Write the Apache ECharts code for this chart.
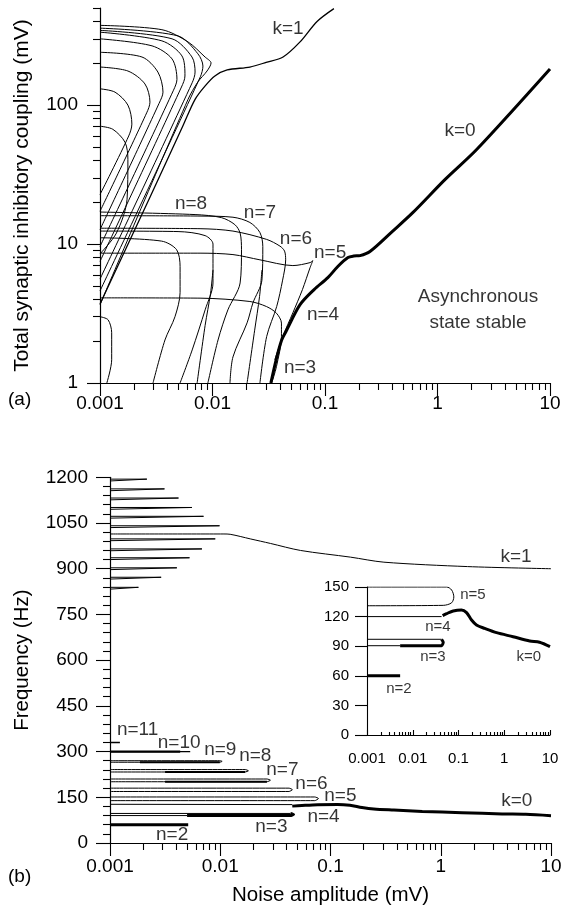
<!DOCTYPE html>
<html><head><meta charset="utf-8">
<script src="https://cdn.jsdelivr.net/npm/echarts@6/dist/echarts.min.js"></script>
<style>html,body{margin:0;padding:0;background:#fff}#c{width:570px;height:909px}</style>
</head><body><div id="c"></div>
<script>
// ---------------- tick values / labels ----------------
const xTickValues = [0.001, 0.01, 0.1, 1, 10];
const xTickLabels = ['0.001', '0.01', '0.1', '1', '10'];
const yTopTickValues = [1, 10, 100];
const yTopTickLabels = ['1', '10', '100'];
const minorMultipliers = [2, 3, 4, 5, 6, 7, 8, 9];
const xDecades = [0.001, 0.01, 0.1, 1];
const yTopDecades = [1, 10, 100];
const yTopMax = 500;

// ---------------- panel (a): stability boundaries (noise mV, coupling mV) ----------------
const k0Top = [[0.033,1],[0.037,1.5],[0.0412,2.04],[0.045,2.35],[0.06,3.66],[0.08,4.7],[0.106,5.73],[0.13,6.9],[0.16,8.0],[0.18,8.2],[0.205,8.26],[0.251,8.83],[0.4,12.4],[0.606,16.9],[1.17,29.2],[2.24,48.1],[10,182]];
const k1Top = [[0.001,3.7],[0.0028,22],[0.0055,72],[0.007,110],[0.00857,137],[0.0105,162],[0.0135,179],[0.0215,188],[0.03,203],[0.0424,222],[0.06,285],[0.085,400],[0.12,495]];
const up1 = [[0.001,375],[0.00355,349],[0.00606,285],[0.00858,222],[0.00971,201],[0.00894,176],[0.00742,147],[0.00606,110],[0.001,3.65]];
const up2 = [[0.001,358],[0.00493,315],[0.00742,234],[0.00822,191],[0.00780,160],[0.001,4.6]];
const up3 = [[0.001,345],[0.00437,300],[0.00657,222],[0.0070,173],[0.00660,145],[0.001,5.6]];
const up4 = [[0.001,335],[0.00355,290],[0.00535,226],[0.00569,162],[0.00530,135],[0.001,7.5]];
const up5 = [[0.001,300],[0.0029,267],[0.00437,215],[0.00483,153],[0.00450,128],[0.001,9.6]];
const up6 = [[0.001,240],[0.00236,222],[0.00327,173],[0.00363,124],[0.00335,103],[0.001,12.7]];
const up7 = [[0.001,188],[0.00177,176],[0.00251,142],[0.00278,105],[0.00260,88],[0.001,17.2]];
const up8 = [[0.001,131],[0.00136,124],[0.00177,100],[0.00192,73],[0.00180,60],[0.001,22.7]];
const up9 = [[0.001,70.5],[0.0013,67],[0.00167,54],[0.00177,40.7],[0.00174,21],[0.0014,12],[0.001,8.5]];
const n10Top = [[0.001,11.1],[0.00353,10.5],[0.0048,9.1],[0.00515,6.9],[0.00515,4.47],[0.00464,3.0],[0.00378,2.04],[0.00296,1]];
const n9Top = [[0.001,12.4],[0.00494,12.3],[0.0086,11.5],[0.0101,10.0],[0.0101,5.25],[0.0086,3.36],[0.0066,1.73],[0.00515,1]];
const n8Top = [[0.001,17.0],[0.007,16.3],[0.012,15.5],[0.0158,13.8],[0.0176,12.0],[0.0181,9.1],[0.0176,5.25],[0.0137,3.36],[0.0112,2.04],[0.0091,1]];
const n7Top = [[0.001,16.0],[0.00775,15.9],[0.0152,15.6],[0.0215,14.3],[0.0264,12.1],[0.028,9.6],[0.0275,5.5],[0.0229,3.78],[0.0203,2.71],[0.0152,1.54],[0.0143,1]];
const n6Top = [[0.001,13.0],[0.00775,12.9],[0.0152,12.4],[0.0303,10.8],[0.0398,9.66],[0.0437,8.9],[0.0447,7.7],[0.042,5.5],[0.0372,3.55],[0.0303,2.16],[0.0264,1]];
const n5Top = [[0.001,8.6],[0.00775,8.6],[0.0152,8.4],[0.0264,7.7],[0.0518,7.0],[0.0736,7.35],[0.078,7.6],[0.0736,6.75],[0.063,4.7],[0.0518,3.2],[0.042,2.15],[0.0358,1.47]];
const n4Top = [[0.001,4.1],[0.00775,4.08],[0.0215,3.86],[0.0302,3.55],[0.037,3.18],[0.041,2.7],[0.041,2.16],[0.037,1.31],[0.0336,1]];
const n3Top = [[0.001,3.0],[0.00118,2.85],[0.00127,2.3],[0.00127,1.47],[0.00115,1]];
const branchA = [[0.0101,6.5],[0.0096,4.4],[0.0086,2.6],[0.0073,1]];
const branchB = [[0.0275,6.5],[0.0262,4.2],[0.0237,2.4],[0.0203,1]];

// ---------------- panel (b): frequencies (noise mV, Hz) ----------------
const k0Freq = [[0.045,121],[0.055,123],[0.0765,125.7],[0.116,126.7],[0.15,124],[0.193,116.5],[0.247,111.5],[0.375,108],[0.68,103.7],[1.56,99.6],[3.6,95.3],[5.9,94],[10,89.5]];
const k1Freq = [[0.001,1014],[0.0108,1014],[0.0123,1013],[0.0187,998],[0.0285,983],[0.0534,960],[0.152,938],[0.305,921.5],[1.75,907],[10,900]];
const kSpikeUpper = [1194,1162,1132,1101,1072,1041,998,965,936,903,872,839];
const kSpikeLower = [1188,1156,1126,1095,1066,1035,992,959,930,897,866,833];
const kSpikeTip = [0.00216,0.00312,0.00418,0.00553,0.00705,0.00985,0.00901,0.00682,0.00526,0.00404,0.00291,0.00181];
const n11Freq = [[0.001,330],[0.00123,330]];
const n10Freq = [[0.001,300],[0.00534,300]];
const n10FreqStable = [[0.001,300],[0.00433,300]];
const n9Freq = [[0.001,270],[0.0099,270],[0.0104,268],[0.0099,265],[0.001,265]];
const n9FreqStable = [[0.00187,265],[0.0099,265]];
const n8Freq = [[0.001,241],[0.0168,241],[0.0180,237],[0.0168,233],[0.001,233]];
const n8FreqStable = [[0.00316,233],[0.0168,233]];
const n7Freq = [[0.001,210],[0.0265,210],[0.0285,206],[0.0265,201],[0.001,201]];
const n7FreqStable = [[0.00316,201],[0.0265,201]];
const n6Freq = [[0.001,180],[0.042,180],[0.0451,175],[0.042,169],[0.001,169]];
const n5Freq = [[0.001,151],[0.072,151],[0.0778,146],[0.072,139],[0.001,139]];
const n4Freq = [[0.001,127],[0.045,126]];
const n3FreqUpper = [[0.001,97],[0.0433,97]];
const n3FreqLower = [[0.001,90],[0.005,90]];
const n3FreqStable = [[0.005,90],[0.0433,90],[0.0462,93.5],[0.0433,97]];
const n2Freq = [[0.001,60],[0.00512,60]];

// inset
const n5Inset = [[0.001,150],[0.055,150],[0.0707,147],[0.079,140],[0.0707,134],[0.0464,131.4],[0.001,131]];
const n4Inset = [[0.001,120],[0.0427,120]];
const n3InsetUpper = [[0.001,97],[0.0427,97]];
const n3InsetLower = [[0.001,90.5],[0.0053,90.5]];
const n3InsetStable = [[0.0053,90.5],[0.0427,90.5],[0.0464,94],[0.0427,97]];
const n2Inset = [[0.001,60],[0.0053,60]];

// ---------------- annotation anchors ----------------
const topLabels = [
  ['k=1',[0.0469,354]],['k=0',[1.585,64.9]],['n=8',[0.00645,19.6]],['n=7',[0.0264,16.9]],
  ['n=6',[0.0552,10.96]],['n=5',[0.111,8.72]],['n=4',[0.096,3.1]],['n=3',[0.06,1.28]],
  ['Asynchronous\nstate stable',[2.29,3.37]]
];
const bottomLabels = [
  ['k=1',[4.81,939]],['k=0',[4.9,137]],['n=11',[0.00178,373]],['n=10',[0.00424,330]],
  ['n=9',[0.01,307]],['n=8',[0.0208,285]],['n=7',[0.0366,240]],['n=6',[0.0672,196]],
  ['n=5',[0.123,155]],['n=4',[0.0864,86]],['n=3',[0.0291,53]],['n=2',[0.00366,27]]
];
const insetLabels = [
  ['n=5',[0.206,142]],['n=4',[0.0355,110]],['n=3',[0.0276,79]],['k=0',[3.44,79]],['n=2',[0.005,47]]
];

// ---------------- build ----------------
const FONT = 'Liberation Sans';
const BLACK = '#000';
const L10 = Math.log10;
const xMajor = xTickValues.map(L10);
const xMinor = [];
xDecades.forEach(d => minorMultipliers.forEach(m => xMinor.push(L10(m * d))));
const yTopMajor = yTopTickValues.map(L10);
const yTopMinor = [];
yTopDecades.forEach(d => minorMultipliers.forEach(m => { if (m * d <= yTopMax) yTopMinor.push(L10(m * d)); }));

function labelFor(values, labels) {
  return function (v) {
    for (let i = 0; i < values.length; i++) if (Math.abs(L10(values[i]) - v) < 1e-6) return labels[i];
    return '';
  };
}
function logAxis(grid, min, max, pos) {
  return {type: 'log', logBase: 10, gridIndex: grid, min, max, position: pos,
    axisLine: {show: true, onZero: false, lineStyle: {color: BLACK, width: 1.2}},
    axisTick: {show: false}, axisLabel: {show: false}, splitLine: {show: false}};
}
function tickAxis(grid, min, max, pos, ticks, len, inside, labelOpt, extra) {
  const a = {type: 'value', gridIndex: grid, min, max, position: pos,
    axisLine: {show: false, onZero: false},
    axisTick: {show: true, customValues: ticks, length: len, inside: inside, lineStyle: {color: BLACK, width: 1.1}},
    axisLabel: labelOpt ? Object.assign({show: true, customValues: ticks, color: BLACK, fontFamily: FONT}, labelOpt) : {show: false},
    splitLine: {show: false}};
  return Object.assign(a, extra || {});
}

const xAxes = [
  logAxis(0, 0.001, 10, 'bottom'),
  tickAxis(0, -3, 1, 'bottom', xMajor, 13, false, {fontSize: 19, margin: 11, formatter: labelFor(xTickValues, xTickLabels)}),
  tickAxis(0, -3, 1, 'bottom', xMinor, 7, false, null),
  logAxis(1, 0.001, 10, 'bottom'),
  tickAxis(1, -3, 1, 'bottom', xMajor, 13, false, {fontSize: 19, margin: 14, formatter: labelFor(xTickValues, xTickLabels)},
    {name: 'Noise amplitude (mV)', nameLocation: 'middle', nameGap: 42,
     nameTextStyle: {fontSize: 20.5, color: BLACK, fontFamily: FONT}}),
  tickAxis(1, -3, 1, 'bottom', xMinor, 7, false, null),
  logAxis(2, 0.001, 10, 'bottom'),
  tickAxis(2, -3, 1, 'bottom', xMajor, 5, true, {fontSize: 15, margin: 16, formatter: labelFor(xTickValues, xTickLabels)}),
  tickAxis(2, -3, 1, 'bottom', xMinor, 3, true, null)
];
const yAxes = [
  logAxis(0, 1, yTopMax, 'left'),
  tickAxis(0, 0, L10(yTopMax), 'left', yTopMajor, 13, false, {fontSize: 19, margin: 22, formatter: labelFor(yTopTickValues, yTopTickLabels)},
    {name: 'Total synaptic inhibitory coupling (mV)', nameLocation: 'middle', nameGap: 67, nameRotate: 90,
     nameTextStyle: {fontSize: 21, color: BLACK, fontFamily: FONT}}),
  tickAxis(0, 0, L10(yTopMax), 'left', yTopMinor, 7, false, null),
  {type: 'value', gridIndex: 1, min: 0, max: 1200, interval: 150, position: 'left',
   axisLine: {show: true, onZero: false, lineStyle: {color: BLACK, width: 1.2}},
   axisTick: {show: true, length: 14, lineStyle: {color: BLACK, width: 1.1}},
   minorTick: {show: true, splitNumber: 5, length: 7, lineStyle: {color: BLACK, width: 1.1}},
   axisLabel: {fontSize: 19, color: BLACK, fontFamily: FONT, margin: 22, formatter: v => String(v)},
   splitLine: {show: false},
   name: 'Frequency (Hz)', nameLocation: 'middle', nameGap: 77, nameRotate: 90,
   nameTextStyle: {fontSize: 20.5, color: BLACK, fontFamily: FONT}},
  {type: 'value', gridIndex: 2, min: 0, max: 150, interval: 30, position: 'left',
   axisLine: {show: true, onZero: false, lineStyle: {color: BLACK, width: 1.1}},
   axisTick: {show: true, length: 12, lineStyle: {color: BLACK, width: 1.1}},
   axisLabel: {fontSize: 15, color: BLACK, fontFamily: FONT, margin: 18, formatter: v => String(v)},
   splitLine: {show: false}}
];

const series = [];
function line(data, xi, yi, w, smooth) {
  series.push({type: 'line', xAxisIndex: xi, yAxisIndex: yi, data: data, showSymbol: false, symbol: 'none',
    smooth: smooth || false, silent: true, clip: true, z: 3,
    lineStyle: {color: BLACK, width: w}});
}
// panel (a)
[up1, up2, up3, up4, up5, up6, up7, up8, up9].forEach(d => line(d, 0, 0, 1, 0.3));
[n10Top, n9Top, n8Top, n7Top, n6Top, n5Top, n4Top, n3Top].forEach(d => line(d, 0, 0, 1, 0.3));
[branchA, branchB].forEach(d => line(d, 0, 0, 1, 0.3));
line(k1Top, 0, 0, 1.3, 0.3);
line(k0Top, 0, 0, 3, 0.3);
// panel (b)
kSpikeTip.forEach((t, i) => line([[0.001, kSpikeUpper[i]], [t, kSpikeUpper[i]], [t, kSpikeLower[i]], [0.001, kSpikeLower[i]]], 3, 3, 1, false));
line(k1Freq, 3, 3, 1, 0.3);
[n9Freq, n8Freq, n7Freq, n6Freq, n5Freq].forEach(d => line(d, 3, 3, 1, 0.2));
[n9FreqStable, n8FreqStable, n7FreqStable].forEach(d => line(d, 3, 3, 2.2, false));
line(n11Freq, 3, 3, 1.5, false);
line(n10Freq, 3, 3, 1.2, false);
line(n10FreqStable, 3, 3, 2.4, false);
line(n4Freq, 3, 3, 1, false);
line(n3FreqUpper, 3, 3, 1, false);
line(n3FreqLower, 3, 3, 1, false);
line(n3FreqStable, 3, 3, 3, 0.2);
line(n2Freq, 3, 3, 3, false);
line(k0Freq, 3, 3, 3, 0.3);
// inset
line(n5Inset, 6, 4, 1, 0.3);
line(n4Inset, 6, 4, 1, false);
line(n3InsetUpper, 6, 4, 1, false);
line(n3InsetLower, 6, 4, 1, false);
line(n3InsetStable, 6, 4, 3, 0.2);
line(n2Inset, 6, 4, 3, false);
line(k0Freq, 6, 4, 3, 0.3);

function labels(list, xi, yi, size, lh) {
  series.push({type: 'scatter', xAxisIndex: xi, yAxisIndex: yi, symbolSize: 0, silent: true, clip: false, z: 5,
    data: list.map(l => ({name: l[0], value: l[1]})),
    label: {show: true, position: 'inside', formatter: '{b}', color: BLACK, fontFamily: FONT, fontSize: size, lineHeight: lh}});
}
labels(topLabels, 0, 0, 19, 26);
labels(bottomLabels, 3, 3, 19, 22);
labels(insetLabels, 6, 4, 15, 18);

const chart = echarts.init(document.getElementById('c'));
chart.setOption({
  animation: false,
  backgroundColor: '#fff',
  grid: [
    {left: 100, top: 8, width: 450, height: 375},
    {left: 110, top: 477.3, width: 441, height: 365.7},
    {left: 367, top: 587, width: 183, height: 148}
  ],
  xAxis: xAxes,
  yAxis: yAxes,
  series: series,
  graphic: [
    {type: 'text', left: 8, top: 390, style: {text: '(a)', fontSize: 19, fontFamily: FONT, fill: BLACK}},
    {type: 'text', left: 8, top: 867, style: {text: '(b)', fontSize: 19, fontFamily: FONT, fill: BLACK}}
  ]
});
</script>
</body></html>
